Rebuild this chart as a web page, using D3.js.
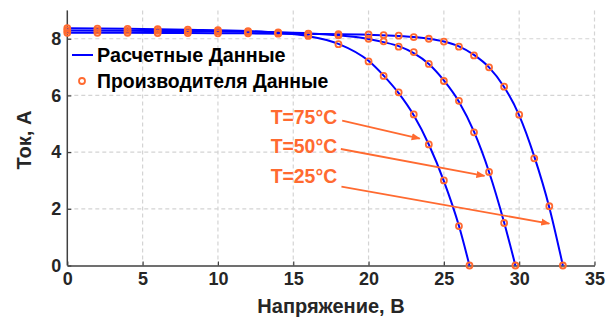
<!DOCTYPE html>
<html>
<head>
<meta charset="utf-8">
<script src="https://cdn.jsdelivr.net/npm/d3@7"></script>
<style>
body{margin:0;background:#fff;}
text{font-family:"Liberation Sans",Arial,sans-serif;font-weight:bold;}
</style>
</head>
<body>
<div id="plot"></div>
<script>
// manufacturer data points (V, A) for three temperatures
var v25 = [0,2,4,6,8,10,12,14,16,18,20,21,22,23,24,25,26,27,28,29,30,31,32,32.9];
var i25 = [8.21,8.21,8.21,8.20,8.20,8.19,8.19,8.18,8.17,8.16,8.15,8.13,8.11,8.06,8.00,7.90,7.72,7.41,6.99,6.31,5.32,3.78,2.09,0];
var v50 = [0,2,4,6,8,10,12,14,16,18,20,21,22,23,24,25,26,27,28,29,29.75];
var i50 = [8.29,8.29,8.28,8.28,8.27,8.26,8.24,8.22,8.18,8.12,8.00,7.91,7.72,7.53,7.11,6.51,5.81,4.70,3.30,1.50,0];
var v75 = [0,2,4,6,8,10,12,14,16,18,20,21,22,23,24,25,26,26.7];
var i75 = [8.37,8.36,8.35,8.34,8.32,8.30,8.27,8.20,8.10,7.81,7.20,6.69,6.11,5.33,4.27,3.00,1.39,0];

// calculated (model) curves
var cv25 = [0,4,8,12,16,20,22,24,25,26,27,28,29,30,31,32,32.9];
var ci25 = [8.21,8.21,8.20,8.19,8.17,8.14,8.10,8.00,7.90,7.73,7.43,6.99,6.30,5.30,3.85,2.05,0];
var cv50 = [0,4,8,12,16,18,20,21,22,23,24,25,26,27,28,29,29.75];
var ci50 = [8.29,8.28,8.27,8.25,8.19,8.12,7.99,7.88,7.74,7.49,7.11,6.53,5.78,4.72,3.30,1.52,0];
var cv75 = [0,4,8,12,14,16,18,20,21,22,23,24,25,26,26.7];
var ci75 = [8.37,8.35,8.32,8.27,8.21,8.09,7.82,7.22,6.70,6.08,5.30,4.27,2.98,1.40,0];

var xTicks = [0,5,10,15,20,25,30,35];
var yTicks = [0,2,4,6,8];
var labels = ['T=75°C','T=50°C','T=25°C'];
var labelPos = [[13.5,5.24],[13.5,4.22],[13.5,3.16]];
var arrowFrom = [[18.25,5.11],[18.16,4.11],[18.2,2.78]];
var arrowTo = [[23.4,4.48],[27.7,3.16],[32.0,1.48]];

var W = 614, H = 322;
var svg = d3.select('#plot').append('svg').attr('width',W).attr('height',H);

var x = d3.scaleLinear().domain([0,35]).range([67.3,594.5]);
var y = d3.scaleLinear().domain([0,9]).range([265.5,10.4]);

var orange = '#ff6a30';
var blue = '#0000ff';

// grid
var grid = svg.append('g').attr('class','grid');
grid.selectAll('.vg').data(xTicks.slice(1)).enter().append('line')
	.attr('x1',d=>x(d)).attr('x2',d=>x(d)).attr('y1',y(9)).attr('y2',y(0))
	.attr('stroke','#d4d4d4').attr('stroke-width',1.2).attr('stroke-dasharray','4,3');
grid.selectAll('.hg').data(yTicks.slice(1)).enter().append('line')
	.attr('x1',x(0)).attr('x2',x(35)).attr('y1',d=>y(d)).attr('y2',d=>y(d))
	.attr('stroke','#d4d4d4').attr('stroke-width',1.2).attr('stroke-dasharray','4,3');

// axes
var xAxis = svg.append('g').attr('transform','translate(0,'+y(0)+')')
	.call(d3.axisBottom(x).tickValues(xTicks).tickSizeInner(-4).tickSizeOuter(0).tickPadding(7));
var yAxis = svg.append('g').attr('transform','translate('+x(0)+',0)')
	.call(d3.axisLeft(y).tickValues(yTicks).tickSizeInner(-4).tickSizeOuter(0).tickPadding(6));
[xAxis,yAxis].forEach(function(a){
	a.select('.domain').attr('stroke','#404040').attr('stroke-width',1.5);
	a.selectAll('.tick line').attr('stroke','#404040').attr('stroke-width',1.2);
	a.selectAll('.tick text').attr('fill','#262626').style('font-size','18px').style('font-weight','bold');
});
yAxis.select('.domain').attr('d','M0,'+y(9)+'V'+y(0));

// curves
var line = d3.line().x(d=>x(d[0])).y(d=>y(d[1])).curve(d3.curveMonotoneX);
var calc = [[cv25,ci25],[cv50,ci50],[cv75,ci75]];
calc.forEach(function(c){
	svg.append('path').datum(c[0].map((v,k)=>[v,c[1][k]]))
		.attr('d',line).attr('fill','none').attr('stroke',blue).attr('stroke-width',2);
});

var meas = [[v25,i25],[v50,i50],[v75,i75]];
meas.forEach(function(m){
	svg.append('g').selectAll('circle').data(m[0].map((v,k)=>[v,m[1][k]])).enter()
		.append('circle').attr('cx',d=>x(d[0])).attr('cy',d=>y(d[1])).attr('r',3)
		.attr('fill','none').attr('stroke',orange).attr('stroke-width',1.8);
});

// legend
svg.append('line').attr('x1',72).attr('x2',93).attr('y1',55).attr('y2',55)
	.attr('stroke',blue).attr('stroke-width',2);
svg.append('text').attr('x',97).attr('y',62).attr('fill','#000').style('font-size','19.8px').text('Расчетные Данные');
svg.append('circle').attr('cx',82).attr('cy',81).attr('r',3)
	.attr('fill','none').attr('stroke',orange).attr('stroke-width',1.8);
svg.append('text').attr('x',97).attr('y',88).attr('fill','#000').style('font-size','19.4px').text('Производителя Данные');

// annotations
svg.append('defs').append('marker').attr('id','arr').attr('viewBox','0 0 10 10')
	.attr('refX',9).attr('refY',5).attr('markerWidth',5).attr('markerHeight',5).attr('orient','auto')
	.append('path').attr('d','M0,1L10,5L0,9Z').attr('fill',orange);
labels.forEach(function(t,k){
	svg.append('text').attr('x',x(labelPos[k][0])).attr('y',y(labelPos[k][1])+7)
		.attr('fill',orange).style('font-size','19.4px').text(t);
	svg.append('line').attr('x1',x(arrowFrom[k][0])).attr('y1',y(arrowFrom[k][1]))
		.attr('x2',x(arrowTo[k][0])).attr('y2',y(arrowTo[k][1]))
		.attr('stroke',orange).attr('stroke-width',1.8).attr('marker-end','url(#arr)');
});

// axis labels
svg.append('text').attr('x',331).attr('y',313).attr('text-anchor','middle')
	.attr('fill','#262626').style('font-size','20px').text('Напряжение, В');
svg.append('text').attr('transform','translate(31,140) rotate(-90)').attr('text-anchor','middle')
	.attr('fill','#262626').style('font-size','20px').text('Ток, А');
</script>
</body>
</html>
